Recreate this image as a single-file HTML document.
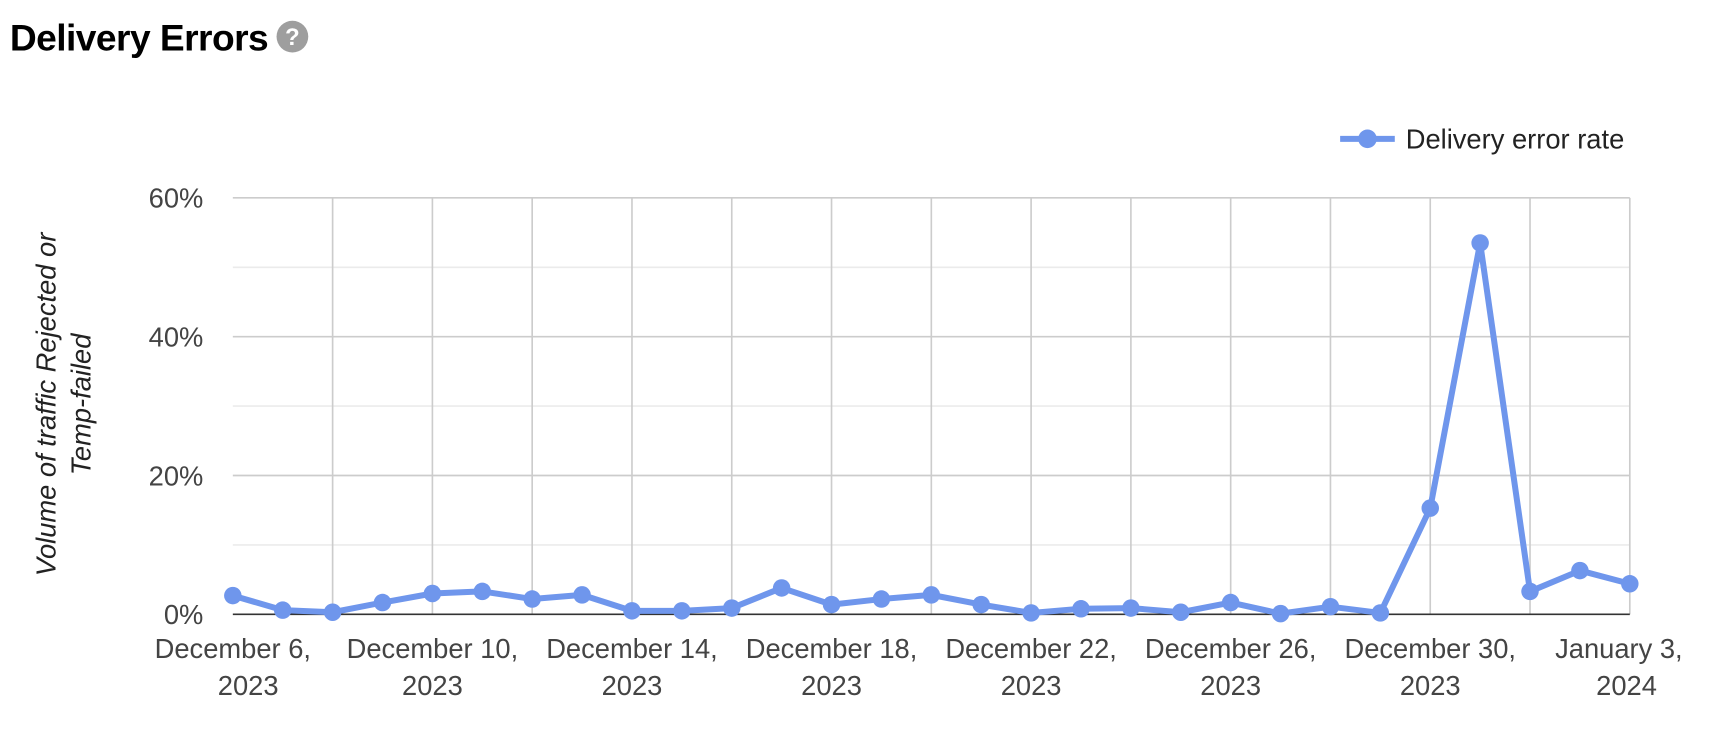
<!DOCTYPE html>
<html><head><meta charset="utf-8"><style>
body{margin:0;background:#fff;width:1714px;height:750px;overflow:hidden;font-family:"Liberation Sans",sans-serif}
#wrap{position:absolute;left:0;top:0;width:1568px;height:686px;transform:scale(1.0931);transform-origin:0 0}
#title{position:absolute;left:9px;top:16px;font-size:34px;font-weight:bold;color:#000;letter-spacing:-0.5px}
#help{position:absolute;left:253px;top:19px;width:29px;height:29px;border-radius:50%;background:#9e9e9e;color:#fff;font-size:22px;font-weight:bold;text-align:center;line-height:29px}
</style></head><body>
<div id="wrap">
<div id="title">Delivery Errors</div>
<div id="help">?</div>
<svg id="chart" width="1568" height="686" style="position:absolute;left:0;top:0"></svg>
</div>
<script>
const categories=["Dec 6","Dec 7","Dec 8","Dec 9","Dec 10","Dec 11","Dec 12","Dec 13","Dec 14","Dec 15","Dec 16","Dec 17","Dec 18","Dec 19","Dec 20","Dec 21","Dec 22","Dec 23","Dec 24","Dec 25","Dec 26","Dec 27","Dec 28","Dec 29","Dec 30","Dec 31","Jan 1","Jan 2","Jan 3"];
const errorRate=[2.7,0.6,0.3,1.7,3.0,3.3,2.2,2.8,0.5,0.5,0.9,3.8,1.4,2.2,2.8,1.4,0.2,0.8,0.9,0.3,1.7,0.1,1.1,0.2,15.3,53.5,3.3,6.3,4.4];
const yTicks=[0,20,40,60];
const yTickLabels=["0%","20%","40%","60%"];
const xTickIdx=[0,4,8,12,16,20,24,28];
const xTickLine1=["December 6,","December 10,","December 14,","December 18,","December 22,","December 26,","December 30,","January 3,"];
const xTickLine2=["2023","2023","2023","2023","2023","2023","2023","2024"];
const svg=document.getElementById('chart');const NS='http://www.w3.org/2000/svg';
const X0=213,X1=1491,Y0=562,Y1=181,YMAX=60;
const x=i=>X0+(X1-X0)*i/(categories.length-1);
const y=v=>Y0-(Y0-Y1)*v/YMAX;
function mk(t,a,p){const e=document.createElementNS(NS,t);for(const k in a)e.setAttribute(k,a[k]);(p||svg).appendChild(e);return e;}
for(let v=10;v<=YMAX;v+=10){const l=mk('line',{x1:X0,x2:X1,y1:y(v),y2:y(v),stroke:v%20?'#ebebeb':'#cccccc','stroke-width':1.5});

}
for(let i=2;i<categories.length;i+=2){const l=mk('line',{x1:x(i),x2:x(i),y1:Y1,y2:Y0,stroke:'#cccccc','stroke-width':1.5});

}
const base=mk('line',{x1:X0,x2:X1,y1:Y0,y2:Y0,stroke:'#333','stroke-width':1.5});


yTicks.forEach((v,k)=>{const t=mk('text',{x:186,y:y(v)+9,'text-anchor':'end','font-size':25,fill:'#444'});t.textContent=yTickLabels[k];

});
xTickIdx.forEach((i,k)=>{const t=mk('text',{x:x(i),y:602,'text-anchor':'middle','font-size':25,fill:'#444'});


const a=mk('tspan',{x:x(i)+(k==7?-10:0)},t);a.textContent=xTickLine1[k];const b=mk('tspan',{x:x(i)+(k==0?14:0)+(k==7?-3:0),dy:34},t);b.textContent=xTickLine2[k];});
const yt=mk('text',{transform:'translate(51,370) rotate(-90)','text-anchor':'middle','font-size':25,'font-style':'italic',fill:'#222'});


const t1=mk('tspan',{x:0,dy:0},yt);t1.textContent='Volume of traffic Rejected or';const t2=mk('tspan',{x:0,dy:32},yt);t2.textContent='Temp-failed';
const pts=errorRate.map((v,i)=>x(i)+','+y(v)).join(' ');
const line=mk('polyline',{points:pts,fill:'none',stroke:'#6f96ec','stroke-width':5.5,'stroke-linejoin':'round'});


errorRate.forEach((v,i)=>{const c=mk('circle',{cx:x(i),cy:y(v),r:8,fill:'#6f96ec'});

});
const lg=mk('g',{});


mk('line',{x1:1226,x2:1276,y1:127,y2:127,stroke:'#6f96ec','stroke-width':5.5},lg);
mk('circle',{cx:1251,cy:127,r:8.5,fill:'#6f96ec'},lg);
const lt=mk('text',{x:1286,y:136,'font-size':25,fill:'#222'},lg);lt.textContent='Delivery error rate';
</script>
</body></html>
